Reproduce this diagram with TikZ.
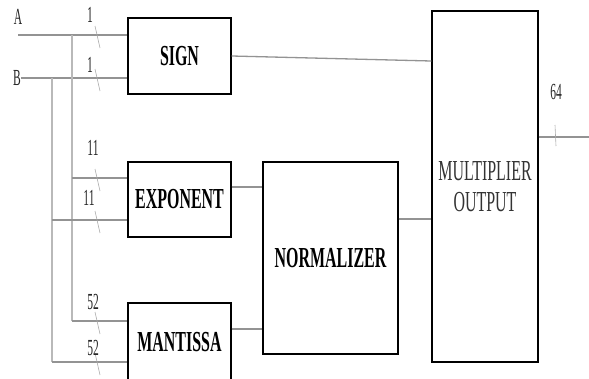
\documentclass[tikz,border=0pt]{standalone}
\usepackage{fontspec}
\setmainfont{Liberation Serif}
\newfontfamily\narrowfont[FakeStretch=0.55]{Liberation Serif}
\newfontfamily\tagfont[FakeStretch=0.5]{Liberation Serif}
\usetikzlibrary{positioning}

\begin{document}
\begin{tikzpicture}[x=1pt, y=-1pt,
    block/.style={rectangle, draw=black, line width=1.4pt, align=center, inner sep=0pt,
        font=\narrowfont\fontsize{29}{31}\selectfont\bfseries},
    wire/.style={draw=gray!85, line width=1.3pt},
    bus/.style={draw=gray!55, line width=1.2pt},
    tick/.style={draw=gray!65, line width=0.6pt},
    lbl/.style={font=\tagfont\fontsize{23}{23}\selectfont, text=black!85, inner sep=0pt}
]
\clip (0,0) rectangle (589,378);

% blocks
\node[block, minimum width=103pt, minimum height=76pt] (sign) at (179.5,56) {SIGN};
\node[block, minimum width=103pt, minimum height=75pt] (expo) at (179.5,199.5) {EXPONENT};
\node[block, minimum width=103pt, minimum height=78pt] (mant) at (179.5,342) {MANTISSA};
\node[block, minimum width=135pt, minimum height=192pt] (norm) at (330.5,258) {NORMALIZER};
\node[block, minimum width=106pt, minimum height=351pt, font=\narrowfont\fontsize{29}{31}\selectfont, text=black!80] (mult) at (485,186.5) {MULTIPLIER\\OUTPUT};

% inputs
\coordinate (a) at (18,35);
\coordinate (b) at (21,78);
\coordinate (ja) at (72,35);
\coordinate (jb) at (52,78);
\coordinate (e1) at ([yshift=21.5pt]expo.west);
\coordinate (e2) at ([yshift=-20.5pt]expo.west);
\coordinate (m1) at ([yshift=21pt]mant.west);
\coordinate (m2) at ([yshift=-20pt]mant.west);
\coordinate (eo) at ([yshift=12.5pt]expo.east);
\coordinate (mo) at ([yshift=13pt]mant.east);
\coordinate (no) at ([yshift=39pt]norm.east);
\coordinate (si) at ([yshift=125.5pt]mult.west);
\coordinate (out) at (589,137);

\node[lbl] (la) at (18,16.5) {A};
\node[lbl, anchor=east] (lb) at (b) {B};

\draw[wire] (a) -- (sign.west |- a);
\draw[wire] (b) -- (sign.west |- b);
\draw[bus] (ja) -- (ja |- m1);
\draw[bus] (jb) -- (jb |- m2);
\draw[wire] (ja |- e1) -- (e1);
\draw[wire] (jb |- e2) -- (e2);
\draw[wire] (ja |- m1) -- (m1);
\draw[wire] (jb |- m2) -- (m2);

% between blocks
\draw[wire] (sign.east) -- (si);
\draw[wire] (eo) -- (norm.west |- eo);
\draw[wire] (mo) -- (norm.west |- mo);
\draw[wire] (no) -- (mult.west |- no);
\draw[wire] (mult.east |- out) -- (out);

% bus widths
\foreach \yy in {35,78,178,220,321,362}
  \draw[tick] (95,\yy-9) -- (100,\yy+13);
\draw[tick] (555,125) -- (556,146);

\foreach \n/\xx/\yy/\t in {s1/90/15/1, s2/90/65/1, x1/93/148/11, x2/89/198/11,
                          t1/93/302/52, t2/93/348/52, o/556/92/64}
  \node[lbl] (w\n) at (\xx,\yy) {\t};
\end{tikzpicture}
\end{document}
